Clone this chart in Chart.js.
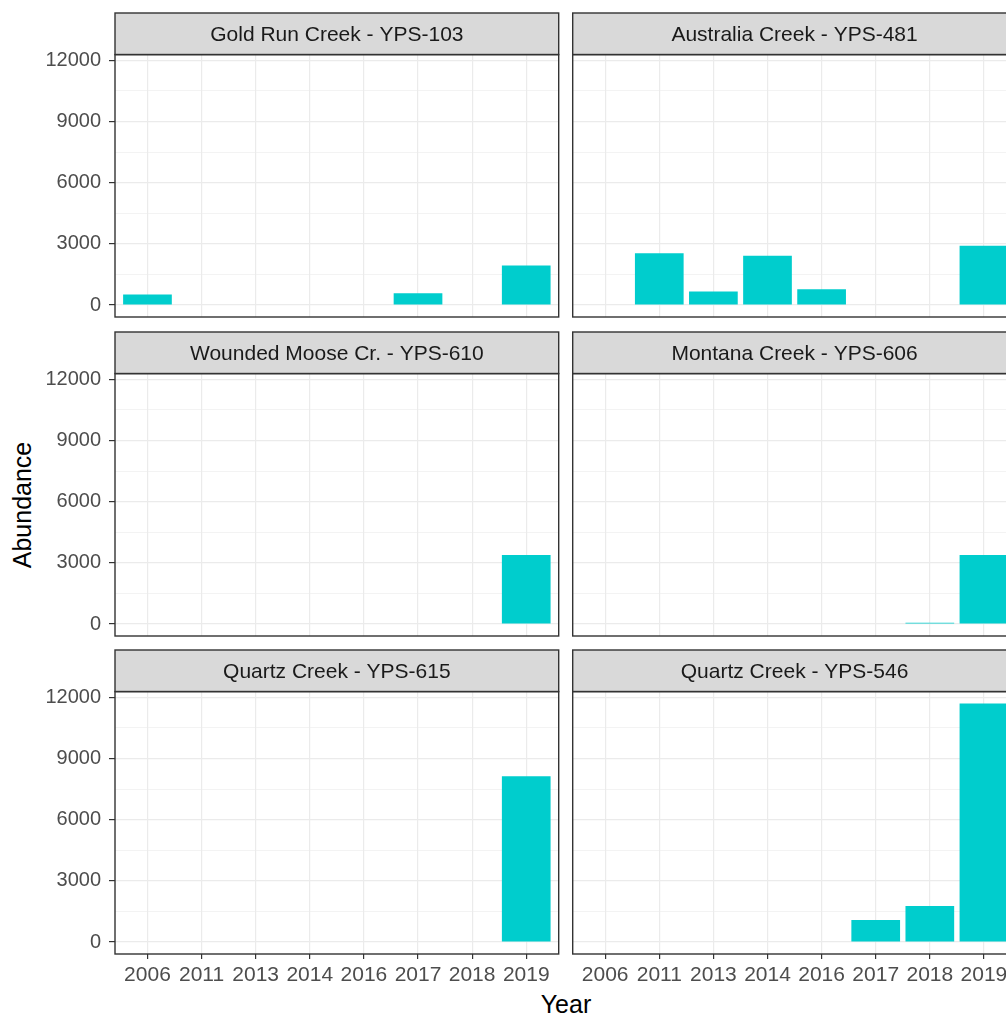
<!DOCTYPE html>
<html>
<head>
<meta charset="utf-8">
<title>Abundance by year</title>
<script src="https://cdn.jsdelivr.net/npm/chart.js@4/dist/chart.umd.min.js"></script>
<style>
  html, body { margin: 0; padding: 0; background: #fff; }
  body { width: 1006px; height: 1020px; overflow: hidden; position: relative;
         font-family: "Liberation Sans", Arial, sans-serif; }
  canvas { position: absolute; }
  .axis-title { position: absolute; font-size: 25px; line-height: 1; color: #000;
                white-space: nowrap; }
  #ylab { left: 22px; top: 505px; transform: translate(-50%, -50%) rotate(-90deg); }
  #xlab { left: 566px; top: 1004px; transform: translate(-50%, -50%); }
</style>
</head>
<body>
<div id="ylab" class="axis-title">Abundance</div>
<div id="xlab" class="axis-title">Year</div>
<script>
// ---- data ----
const years = ['2006', '2011', '2013', '2014', '2016', '2017', '2018', '2019'];

const siteNames = [
  'Gold Run Creek - YPS-103',
  'Australia Creek - YPS-481',
  'Wounded Moose Cr. - YPS-610',
  'Montana Creek - YPS-606',
  'Quartz Creek - YPS-615',
  'Quartz Creek - YPS-546'
];

const goldRun      = [515, null, null, null, null, 580, null, 1940];
const australia    = [null, 2540, 660, 2420, 780, null, null, 2910];
const woundedMoose = [null, null, null, null, null, null, null, 3390];
const montana      = [null, null, null, null, null, null, 60, 3390];
const quartz615    = [null, null, null, null, null, null, null, 8130];
const quartz546    = [null, null, null, null, null, 1080, 1770, 11700];

const yMajorTicks = [0, 3000, 6000, 9000, 12000];
const yMinorTicks = [1500, 4500, 7500, 10500];

// ---- layout ----
const siteSeries = [goldRun, australia, woundedMoose, montana, quartz615, quartz546];
const PLOT_LEFT = [115, 572.7];
const PLOT_W = 443.7;
const STRIP_TOP = [12.7, 331.5, 650.3];
const STRIP_H = 41.6;
const PLOT_H = 262.4;
const X_AXIS_H = 46;
const Y_AXIS_W = 115;
const EDGE = 3;
const LOWER_PAD = 26;

const FONT = '"Liberation Sans", Arial, sans-serif';
Chart.defaults.font.family = FONT;

// fixed scale shared by all panels, padded 5% beyond the data range
const dataMax = Math.max(...siteSeries.flat().filter(v => v !== null));
const yMin = -0.05 * dataMax;
const yMax = 1.05 * dataMax;
const yTickValues = [...yMajorTicks, ...yMinorTicks].sort((a, b) => a - b);
const isMajor = v => yMajorTicks.includes(v);

// strip header and panel frame
const facetPanel = {
  id: 'facetPanel',
  afterDraw(chart, args, opts) {
    const { ctx, chartArea: a } = chart;
    const w = a.right - a.left;
    ctx.save();
    ctx.fillStyle = '#d9d9d9';
    ctx.fillRect(a.left, a.top - STRIP_H, w, STRIP_H);
    ctx.strokeStyle = '#333333';
    ctx.lineWidth = 1.4;
    ctx.strokeRect(a.left, a.top - STRIP_H, w, STRIP_H);
    ctx.strokeRect(a.left, a.top, w, a.bottom - a.top);
    ctx.fillStyle = '#1a1a1a';
    ctx.font = '21px ' + FONT;
    ctx.textAlign = 'center';
    ctx.textBaseline = 'middle';
    ctx.fillText(opts.label, a.left + w / 2, a.top - STRIP_H / 2 + 1);
    ctx.restore();
  }
};

function makePanel(index) {
  const col = index % 2;
  const row = Math.floor(index / 2);
  const showY = col === 0;
  const showX = row === 2;

  const canvas = document.createElement('canvas');
  let left, width, padLeft, padRight;
  if (col === 0) {
    left = 0; width = 563;
    padLeft = 0;
    padRight = width - (PLOT_LEFT[0] + PLOT_W);
  } else {
    left = 568; width = 460;
    padLeft = PLOT_LEFT[1] - left;
    padRight = width - padLeft - PLOT_W;
  }
  const top = STRIP_TOP[row] - EDGE;
  const padTop = EDGE + STRIP_H;
  const xH = showX ? X_AXIS_H : 0;
  const height = Math.round(padTop + PLOT_H + xH + (showX ? EDGE : LOWER_PAD));
  const padBottom = height - padTop - PLOT_H - xH;

  canvas.width = width;
  canvas.height = height;
  canvas.style.left = left + 'px';
  canvas.style.top = top + 'px';
  canvas.style.width = width + 'px';
  canvas.style.height = height + 'px';
  document.body.appendChild(canvas);

  const values = siteSeries[index];
  new Chart(canvas, {
    type: 'bar',
    data: {
      datasets: [{
        data: years.map((_, i) => ({ x: i, y: values[i] })),
        backgroundColor: '#00cdcd',
        borderWidth: 0,
        categoryPercentage: 1,
        barPercentage: 0.9
      }]
    },
    options: {
      responsive: false,
      animation: false,
      devicePixelRatio: 1,
      layout: { padding: { left: padLeft, right: padRight, top: padTop, bottom: padBottom } },
      plugins: {
        legend: { display: false },
        tooltip: { enabled: false },
        facetPanel: { label: siteNames[index] }
      },
      scales: {
        x: {
          type: 'linear',
          offset: false,
          min: -0.6,
          max: 7.6,
          afterBuildTicks: s => { s.ticks = years.map((_, i) => ({ value: i })); },
          afterFit: s => { s.height = xH; },
          border: { display: false },
          grid: {
            offset: false,
            color: '#ebebeb',
            lineWidth: 1.2,
            drawTicks: showX,
            tickLength: 5,
            tickColor: '#333333',
            tickWidth: 1.2
          },
          ticks: {
            display: showX,
            autoSkip: false,
            maxRotation: 0,
            minRotation: 0,
            padding: 4,
            color: '#4d4d4d',
            font: { size: 21 },
            callback: v => years[v] ?? ''
          }
        },
        y: {
          type: 'linear',
          min: yMin,
          max: yMax,
          afterBuildTicks: s => { s.ticks = yTickValues.map(v => ({ value: v })); },
          afterFit: s => { s.width = showY ? Y_AXIS_W : 0; },
          border: { display: false },
          grid: {
            color: '#ebebeb',
            lineWidth: c => (c.tick && isMajor(c.tick.value)) ? 1.2 : 0.6,
            drawTicks: showY,
            tickLength: 6,
            tickColor: c => (c.tick && isMajor(c.tick.value)) ? '#333333' : 'rgba(0,0,0,0)',
            tickWidth: 1.2
          },
          ticks: {
            display: showY,
            autoSkip: false,
            padding: 8,
            color: '#4d4d4d',
            font: { size: 20 },
            callback: v => isMajor(v) ? String(v) : ''
          }
        }
      }
    },
    plugins: [facetPanel]
  });
}

for (let i = 0; i < siteNames.length; i++) makePanel(i);
</script>
</body>
</html>
